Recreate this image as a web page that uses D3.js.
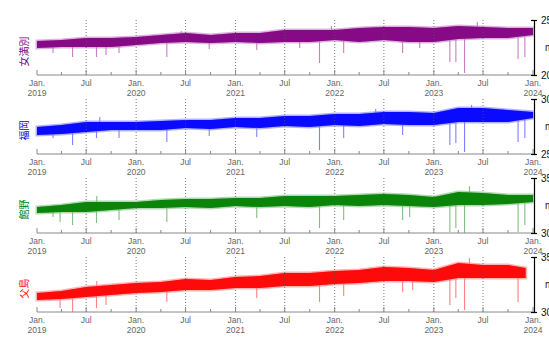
<!DOCTYPE html>
<html lang="ja">
<head>
<meta charset="UTF-8">
<script src="https://cdn.jsdelivr.net/npm/d3@7"></script>
<style>
  html, body { margin: 0; padding: 0; background: #fff; overflow: hidden; }
  svg { display: block; font-family: "Liberation Sans", Arial, sans-serif; }
</style>
</head>
<body>
<div id="chart"></div>
<script>
// station names and colours, top to bottom
const stations = ["女満別", "福岡", "館野", "父島"];
const colors = ["#800080", "#0000ff", "#008000", "#ff0000"];
const lightColors = ["#c77fc7", "#7f7fff", "#7fbf7f", "#ff8080"];
const yDomains = [[20, 25], [25, 30], [30, 35], [30, 35]];
const unitLabel = "m";

// quarterly envelope of the daily series
const quarters = ["2019-01-01", "2019-04-01", "2019-07-01", "2019-10-01",
  "2020-01-01", "2020-04-01", "2020-07-01", "2020-10-01",
  "2021-01-01", "2021-04-01", "2021-07-01", "2021-10-01",
  "2022-01-01", "2022-04-01", "2022-07-01", "2022-10-01",
  "2023-01-01", "2023-04-01", "2023-07-01", "2023-10-01", "2024-01-01"];
const redDates = quarters.slice(0, 20).concat(["2023-12-05"]);

const purpleHi = [23.09, 23.18, 23.36, 23.36, 23.45, 23.64, 23.82, 23.64, 23.82, 23.82, 24.09,
  24.09, 24.09, 24.27, 24.36, 24.36, 24.27, 24.45, 24.36, 24.27, 24.27];
const purpleLo = [22.45, 22.55, 22.55, 22.55, 22.73, 22.91, 23.00, 22.91, 23.00, 22.91, 23.00,
  23.00, 23.18, 23.00, 23.18, 23.00, 23.00, 23.27, 23.36, 23.36, 23.64];

const blueHi = [27.45, 27.64, 27.91, 27.91, 27.91, 28.00, 28.09, 28.09, 28.27, 28.27, 28.45,
  28.45, 28.64, 28.64, 28.82, 28.82, 28.73, 29.18, 29.18, 29.00, 28.82];
const blueLo = [26.73, 26.82, 27.00, 27.18, 27.18, 27.18, 27.36, 27.27, 27.45, 27.36, 27.55,
  27.45, 27.64, 27.55, 27.73, 27.64, 27.64, 27.91, 27.91, 27.91, 28.27];

const greenHi = [32.36, 32.55, 32.82, 32.82, 32.82, 33.00, 33.09, 33.09, 33.18, 33.18, 33.36,
  33.36, 33.36, 33.45, 33.55, 33.45, 33.27, 33.73, 33.64, 33.45, 33.45];
const greenLo = [31.82, 31.91, 31.91, 32.09, 32.27, 32.27, 32.36, 32.27, 32.45, 32.36, 32.45,
  32.36, 32.55, 32.45, 32.55, 32.45, 32.36, 32.55, 32.55, 32.64, 32.82];

const redHi = [31.73, 31.91, 32.27, 32.45, 32.64, 32.73, 33.00, 32.91, 33.18, 33.27, 33.55,
  33.55, 33.73, 33.82, 34.09, 34.00, 33.82, 34.45, 34.27, 34.27, 34.00];
const redLo = [31.09, 31.18, 31.36, 31.55, 31.73, 31.82, 32.00, 32.00, 32.18, 32.18, 32.36,
  32.36, 32.55, 32.64, 32.82, 32.82, 32.73, 33.09, 33.09, 33.09, 33.09];

// single-day excursions (date, value)
const purpleSpikes = [["2019-03-01", 22.00], ["2019-05-12", 21.64], ["2019-08-08", 21.64],
  ["2019-09-12", 21.82], ["2019-10-30", 22.00], ["2020-04-23", 21.64], ["2020-09-26", 22.36],
  ["2021-03-20", 22.27], ["2021-08-25", 22.45], ["2021-11-06", 21.09], ["2022-02-03", 22.00],
  ["2022-09-08", 22.00], ["2022-11-10", 22.45], ["2023-03-01", 21.18], ["2023-03-23", 21.18],
  ["2023-04-24", 20.18], ["2023-11-07", 21.45], ["2023-12-02", 21.64],
  ["2020-06-15", 24.00], ["2021-12-20", 24.45], ["2023-06-10", 24.82]];
const blueSpikes = [["2019-03-01", 26.45], ["2019-05-12", 25.82], ["2019-08-08", 26.45],
  ["2019-10-30", 26.45], ["2020-04-23", 26.09], ["2020-09-26", 26.64], ["2021-03-20", 26.55],
  ["2021-11-06", 25.36], ["2022-02-03", 26.45], ["2022-09-08", 26.73], ["2023-03-01", 25.82],
  ["2023-03-23", 26.00], ["2023-04-24", 25.18], ["2023-11-07", 26.09], ["2023-12-02", 26.45],
  ["2019-08-20", 28.36], ["2022-06-01", 29.09], ["2023-05-20", 29.45]];
const greenSpikes = [["2019-03-01", 31.45], ["2019-03-27", 31.00], ["2019-05-12", 30.73],
  ["2019-08-08", 30.91], ["2019-08-09", 33.36], ["2019-10-30", 31.18], ["2020-04-23", 31.00],
  ["2021-03-20", 31.36], ["2021-11-06", 30.45], ["2022-02-03", 31.18], ["2022-09-08", 31.18],
  ["2022-10-04", 31.45], ["2023-03-01", 30.09], ["2023-03-23", 30.45], ["2023-04-24", 30.00],
  ["2023-05-12", 34.27], ["2023-11-07", 30.09], ["2023-12-02", 30.73]];
const redSpikes = [["2019-03-27", 30.36], ["2019-05-12", 30.00], ["2019-08-08", 30.36],
  ["2019-08-09", 32.82], ["2019-09-12", 30.64], ["2020-04-23", 30.91], ["2021-03-20", 31.27],
  ["2021-11-06", 30.91], ["2022-02-03", 31.45], ["2022-09-08", 31.82], ["2022-10-15", 32.00],
  ["2023-03-01", 30.64], ["2023-03-23", 31.27], ["2023-04-24", 30.18], ["2023-05-12", 34.91],
  ["2023-11-07", 30.91]];

const series = [
  {dates: quarters, hi: purpleHi, lo: purpleLo, spikes: purpleSpikes},
  {dates: quarters, hi: blueHi, lo: blueLo, spikes: blueSpikes},
  {dates: quarters, hi: greenHi, lo: greenLo, spikes: greenSpikes},
  {dates: redDates, hi: redHi, lo: redLo, spikes: redSpikes}
];

const width = 549, height = 340;
const left = 37, right = 533;
const panelTop = 20, panelH = 55, panelStep = 79;

const parse = d3.timeParse("%Y-%m-%d");
const svg = d3.select("#chart").append("svg").attr("width", width).attr("height", height);

const x = d3.scaleTime()
  .domain([new Date(2019, 0, 1), new Date(2024, 0, 1)])
  .range([left, right]);

const months = d3.timeMonth.every(3).range(new Date(2019, 0, 1), new Date(2024, 0, 2));

// middle of the band at a date, used as the root of a spike
function bandMid(s, dt) {
  const ds = s.dates.map(parse);
  const i = Math.max(1, Math.min(ds.length - 1, d3.bisectLeft(ds, dt)));
  const t = (dt - ds[i - 1]) / (ds[i] - ds[i - 1]);
  const m0 = (s.hi[i - 1] + s.lo[i - 1]) / 2, m1 = (s.hi[i] + s.lo[i]) / 2;
  return m0 + (m1 - m0) * t;
}

series.forEach((s, k) => {
  const top = panelTop + k * panelStep, bottom = top + panelH;
  const y = d3.scaleLinear().domain(yDomains[k]).range([bottom, top]);
  const g = svg.append("g");

  // spikes
  g.selectAll("line.spike")
    .data(s.spikes)
    .join("line")
    .attr("x1", d => x(parse(d[0]))).attr("x2", d => x(parse(d[0])))
    .attr("y1", d => y(bandMid(s, parse(d[0]))))
    .attr("y2", d => y(d[1]))
    .attr("stroke", lightColors[k]).attr("stroke-width", 1.1);

  // envelope band
  const rows = s.dates.map((d, i) => ({date: parse(d), hi: s.hi[i], lo: s.lo[i]}));
  const area = d3.area()
    .x(d => x(d.date))
    .y0(d => y(d.lo))
    .y1(d => y(d.hi));
  g.append("path")
    .datum(rows)
    .attr("d", area)
    .attr("fill", lightColors[k])
    .attr("stroke", lightColors[k])
    .attr("stroke-width", 3)
    .attr("stroke-opacity", 0.6);
  g.append("path")
    .datum(rows)
    .attr("d", area)
    .attr("fill", colors[k])
    .attr("fill-opacity", 0.92);

  // dotted month grid
  g.selectAll("line.grid")
    .data(months.filter(m => (m.getMonth() === 0 || m.getMonth() === 6) && m > x.domain()[0] && m < x.domain()[1]))
    .join("line")
    .attr("x1", d => x(d)).attr("x2", d => x(d))
    .attr("y1", top).attr("y2", bottom)
    .attr("stroke", "#555").attr("stroke-width", 0.8)
    .attr("stroke-dasharray", "1,2");

  // bottom time axis
  g.append("line")
    .attr("x1", left).attr("x2", right)
    .attr("y1", bottom).attr("y2", bottom)
    .attr("stroke", "#888");
  g.selectAll("line.tick")
    .data(months)
    .join("line")
    .attr("x1", d => x(d)).attr("x2", d => x(d))
    .attr("y1", bottom)
    .attr("y2", d => bottom - (d.getMonth() % 6 === 0 ? 5 : 3))
    .attr("stroke", "#888");
  const labels = g.selectAll("text.tl")
    .data(months.filter(m => m.getMonth() % 6 === 0))
    .join("text")
    .attr("x", d => x(d))
    .attr("y", bottom + 11)
    .attr("text-anchor", "middle")
    .attr("font-size", 8.5)
    .attr("fill", "#666");
  labels.append("tspan").text(d => d.getMonth() === 0 ? "Jan." : "Jul");
  labels.filter(d => d.getMonth() === 0).append("tspan")
    .attr("x", d => x(d)).attr("dy", 9.5)
    .text(d => d.getFullYear());

  // right value axis
  const yAxis = d3.axisRight(y).tickValues(yDomains[k]).tickSize(3).tickPadding(4);
  const ya = g.append("g").attr("transform", `translate(${right + 1},0)`).call(yAxis);
  ya.select(".domain").attr("stroke", "#000").attr("stroke-width", 1.2);
  ya.selectAll(".tick line").attr("x1", -3).attr("stroke", "#000").attr("stroke-width", 1.2);
  ya.selectAll(".tick text").attr("font-size", 10).attr("fill", "#111")
    .attr("font-family", "Liberation Sans, Arial, sans-serif");

  g.append("text")
    .attr("x", 545).attr("y", (top + bottom) / 2 + 3)
    .attr("font-size", 10).attr("fill", "#222")
    .text(unitLabel);

  // station name
  g.append("text")
    .attr("transform", `translate(28,${(top + bottom) / 2 + 4}) rotate(-90)`)
    .attr("text-anchor", "middle")
    .attr("font-family", "Noto Sans CJK JP, sans-serif")
    .attr("font-size", 10)
    .attr("fill", colors[k])
    .text(stations[k]);
});
</script>
</body>
</html>
